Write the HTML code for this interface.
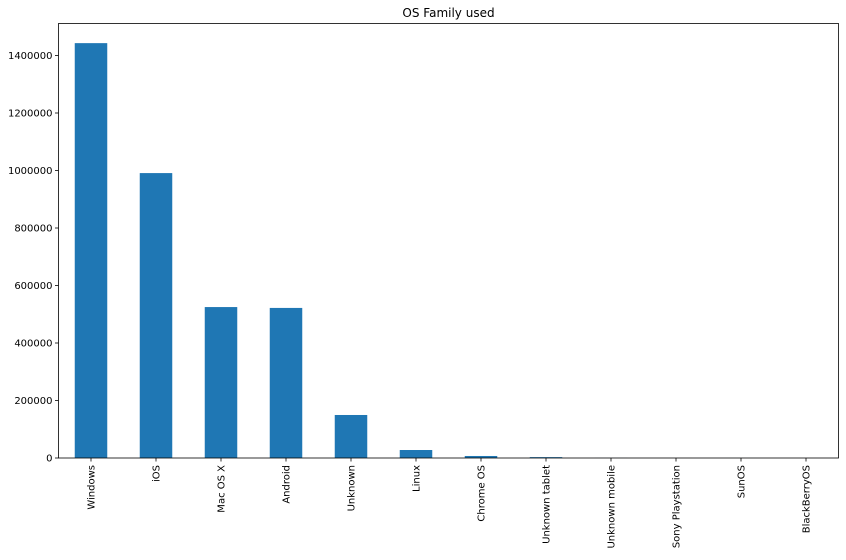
<!DOCTYPE html>
<html><head><meta charset="utf-8"><style>
body{margin:0;background:#fff;}
svg text{font-family:"DejaVu Sans","Liberation Sans",sans-serif;font-size:10px;fill:#000;}
</style></head><body>
<svg id="chart" width="846" height="555" xmlns="http://www.w3.org/2000/svg">
<text x="448.5" y="17" text-anchor="middle" style="font-size:12px">OS Family used</text>
<g id="bars"></g><g id="axes"></g>
</svg>
<script>
const categories=["Windows","iOS","Mac OS X","Android","Unknown","Linux","Chrome OS","Unknown tablet","Unknown mobile","Sony Playstation","SunOS","BlackBerryOS"];
const values=[1443000,991000,525000,522000,149600,27800,7000,3000,300,100,50,20];
const yTicks=[0,200000,400000,600000,800000,1000000,1200000,1400000];
const L=58.5,R=838.5,T=23.5,B=458;
const pxPer=57.5/200000;
const y=v=>B-v*pxPer;
const step=(R-L)/categories.length;
const x=i=>L+step*(i+0.5);
const NS="http://www.w3.org/2000/svg";
const bars=document.getElementById('bars'),axes=document.getElementById('axes');
function mk(t,a,p){const e=document.createElementNS(NS,t);for(const k in a)e.setAttribute(k,a[k]);p.appendChild(e);return e;}
values.forEach((v,i)=>{
 const r=mk('rect',{x:x(i)-step/4,y:y(v),width:step/2,height:B-y(v),fill:'#1f77b4'},bars);
 
 
});
const frame=mk('rect',{x:L,y:T,width:R-L,height:B-T,fill:'none',stroke:'#000','stroke-width':0.8},axes);


yTicks.forEach(t=>{
 mk('line',{x1:L-3.5,x2:L,y1:y(t),y2:y(t),stroke:'#000','stroke-width':0.8},axes);
 const tx=mk('text',{x:L-6,y:y(t)+3.5,'text-anchor':'end'},axes);
 tx.textContent=t;
 
 
});
categories.forEach((c,i)=>{
 mk('line',{x1:x(i),x2:x(i),y1:B,y2:B+3.5,stroke:'#000','stroke-width':0.8},axes);
 const tx=mk('text',{transform:`translate(${x(i)+3.5},${B+7}) rotate(-90)`,'text-anchor':'end'},axes);
 tx.textContent=c;
 
 
});
</script>
</body></html>
